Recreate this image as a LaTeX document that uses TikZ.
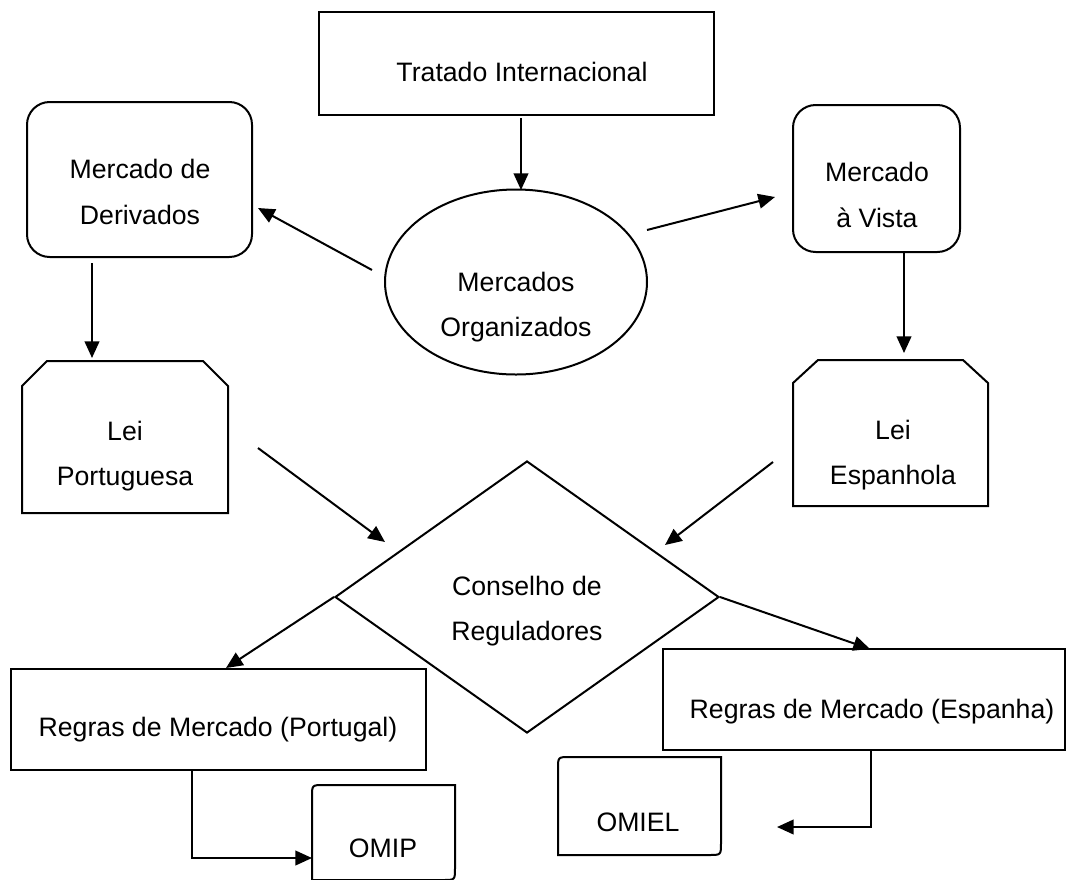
\documentclass[tikz,border=0pt]{standalone}
\usepackage{fontspec}
\setmainfont{Liberation Sans}
\usetikzlibrary{arrows.meta,fit,shapes.geometric}
\begin{document}
\begin{tikzpicture}[x=0.75pt,y=-0.75pt,
  line width=1.5pt,
  arr/.style={-{Triangle[length=12.5pt,width=11pt]}},
  txt/.style={font=\fontsize{20}{34}\selectfont, inner sep=0pt, align=center},
  boxfit/.style={draw, inner sep=0pt},
]
\useasboundingbox (0,0) rectangle (1068,879);

% --- shapes ---
\node[boxfit, fit={(319,12) (714,115)}] (trat) {};
\node[txt] (ttrat) at (522,72) {Tratado Internacional};

\node[boxfit, rounded corners=17pt, fit={(27,102) (252,257)}] (deriv) {};
\node[txt] (tderiv) at (140,192) {Mercado de\\Derivados};

\node[boxfit, rounded corners=17pt, fit={(793,105) (960,252)}] (vista) {};
\node[txt] (tvista) at (877,195) {Mercado\\à Vista};

\node[draw, ellipse, inner sep=0pt, minimum width=196.5pt, minimum height=138.75pt] (ell) at (516,282) {};
\node[txt] (tell) at (516,307) {Mercados\\Organizados};

\draw (22,513) -- (22,386) -- (47,361) -- (203,361) -- (228,386) -- (228,513) -- cycle;
\node[txt] (tleip) at (125,456) {Lei\\Portuguesa};

\draw (793,506) -- (793,383) -- (818,360) -- (963,360) -- (988,383) -- (988,506) -- cycle;
\node[txt] (tleie) at (893,455) {Lei\\Espanhola};

\node[draw, diamond, inner sep=0pt, minimum width=288pt, minimum height=204pt] (cons) at (527,597) {};
\node[txt] (tcons) at (527,611) {Conselho de\\Reguladores};

\node[boxfit, fit={(11,669) (426,770)}] (regp) {};
\node[txt] (tregp) at (218,730) {Regras de Mercado (Portugal)};

\node[boxfit, fit={(663,649) (1065,750)}] (rege) {};
\node[txt] (trege) at (872,712) {Regras de Mercado (Espanha)};

\draw (312,880) -- (312,797) .. controls (312,785) .. (324,785) -- (455,785) -- (455,868) .. controls (455,880) .. (443,880) -- cycle;
\node[txt] (tomip) at (383,848) {OMIP};

\draw (558,855) -- (558,769) .. controls (558,757) .. (570,757) -- (721,757) -- (721,843) .. controls (721,855) .. (709,855) -- cycle;
\node[txt] (tomiel) at (638,822) {OMIEL};

% --- connector end points ---
\coordinate (a1s) at (521,118);   \coordinate (a1e) at (521,190);
\coordinate (a2s) at (372,270);   \coordinate (a2e) at (258,208);
\coordinate (a3s) at (647,230);   \coordinate (a3e) at (775,197);
\coordinate (a4s) at (92,263);    \coordinate (a4e) at (92,358);
\coordinate (a5s) at (904,252);   \coordinate (a5e) at (904,353);
\coordinate (a6s) at (258,448);   \coordinate (a6e) at (385,542);
\coordinate (a7s) at (773,462);   \coordinate (a7e) at (665,545);
\coordinate (a8e) at (226,668);
\coordinate (a9e) at (870,649);
\coordinate (a10s) at (192,770);  \coordinate (a10e) at (312,858);
\coordinate (a11s) at (871,750);  \coordinate (a11e) at (777,827);

% --- connectors ---
\draw[arr] (a1s) -- (a1e);
\draw[arr] (a2s) -- (a2e);
\draw[arr] (a3s) -- (a3e);
\draw[arr] (a4s) -- (a4e);
\draw[arr] (a5s) -- (a5e);
\draw[arr] (a6s) -- (a6e);
\draw[arr] (a7s) -- (a7e);
\draw[arr] (cons.west) -- (a8e);
\draw[arr] (cons.east) -- (a9e);
\draw[arr] (a10s) |- (a10e);
\draw[arr] (a11s) |- (a11e);
\end{tikzpicture}
\end{document}
